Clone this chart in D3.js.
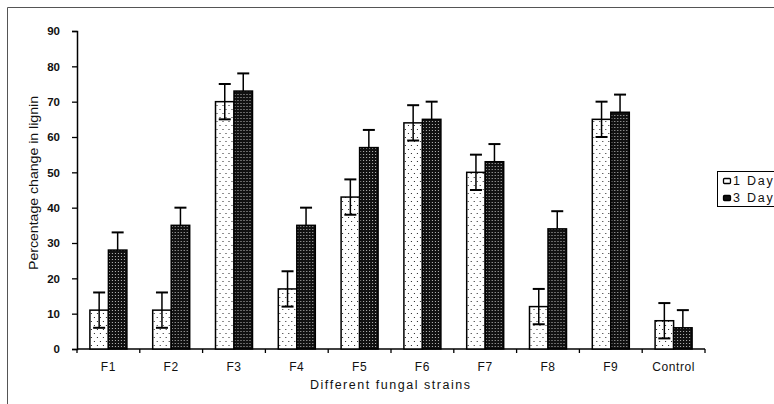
<!DOCTYPE html>
<html>
<head>
<meta charset="utf-8">
<script src="https://cdn.jsdelivr.net/npm/d3@7"></script>
<style>
body { margin: 0; background: #fff; }
svg text { font-family: Arial, "Liberation Sans", sans-serif; }
</style>
</head>
<body>
<svg id="chart" width="774" height="404"></svg>
<script>
// data
var strains = ["F1", "F2", "F3", "F4", "F5", "F6", "F7", "F8", "F9", "Control"];
var day1 = [11, 11, 70, 17, 43, 64, 50, 12, 65, 8];
var day3 = [28, 35, 73, 35, 57, 65, 53, 34, 67, 6];
var err1 = [5, 5, 5, 5, 5, 5, 5, 5, 5, 5];
var err3 = [5, 5, 5, 5, 5, 5, 5, 5, 5, 5];
var seriesNames = ["1 Day", "3 Day"];
var yTicks = [0, 10, 20, 30, 40, 50, 60, 70, 80, 90];

var svg = d3.select("#chart");

// patterns
var defs = svg.append("defs");
var p1 = defs.append("pattern").attr("id", "dots1").attr("patternUnits", "userSpaceOnUse")
	.attr("width", 6).attr("height", 8);
p1.append("rect").attr("width", 6).attr("height", 8).attr("fill", "#fff");
p1.append("rect").attr("x", 1).attr("y", 1).attr("width", 1).attr("height", 1).attr("fill", "#222");
p1.append("rect").attr("x", 4).attr("y", 5).attr("width", 1).attr("height", 1).attr("fill", "#222");

var p2 = defs.append("pattern").attr("id", "dots2").attr("patternUnits", "userSpaceOnUse")
	.attr("width", 3).attr("height", 3);
p2.append("rect").attr("width", 3).attr("height", 3).attr("fill", "#111");
p2.append("rect").attr("x", 1).attr("y", 1).attr("width", 1).attr("height", 1).attr("fill", "#bbb");

// outer frame
svg.append("line").attr("x1", 7.5).attr("y1", 7.5).attr("x2", 774).attr("y2", 7.5)
	.attr("stroke", "#555").attr("stroke-width", 1);
svg.append("line").attr("x1", 7.5).attr("y1", 7.5).attr("x2", 7.5).attr("y2", 404)
	.attr("stroke", "#555").attr("stroke-width", 1);

var plotLeft = 77, plotRight = 705, plotTop = 31, plotBottom = 349;

var x = d3.scaleBand().domain(strains).range([plotLeft, plotRight]).paddingInner(0).paddingOuter(0);
var y = d3.scaleLinear().domain([0, 90]).range([plotBottom, plotTop]);
var inner = d3.scaleBand().domain([0, 1]).range([0, 37]);
var pairOffset = (x.bandwidth() - 37) / 2;

// axes
var yAxis = svg.append("g").attr("transform", "translate(" + plotLeft + ",0)")
	.call(d3.axisLeft(y).tickValues(yTicks).tickSize(5).tickPadding(12).tickFormat(d3.format("d")));
yAxis.select(".domain").attr("stroke", "#000").attr("stroke-width", 1.5);
yAxis.selectAll(".tick line").attr("stroke-width", 1.3);
yAxis.selectAll("text").attr("font-size", 11.5).attr("font-weight", "bold").attr("fill", "#111");

var xTickScale = d3.scaleLinear().domain([0, strains.length]).range([plotLeft, plotRight]);
var xAxis = svg.append("g").attr("transform", "translate(0," + plotBottom + ")");
xAxis.append("line").attr("x1", plotLeft).attr("x2", plotRight).attr("stroke", "#000").attr("stroke-width", 1.5);
xAxis.selectAll(".xt").data(d3.range(strains.length + 1)).enter().append("line")
	.attr("x1", function(d) { return xTickScale(d); })
	.attr("x2", function(d) { return xTickScale(d); })
	.attr("y1", 0).attr("y2", 4).attr("stroke", "#000").attr("stroke-width", 1.3);
xAxis.selectAll(".xl").data(strains).enter().append("text")
	.attr("x", function(d) { return x(d) + x.bandwidth() / 2; })
	.attr("y", 22).attr("text-anchor", "middle")
	.attr("font-size", 12).attr("letter-spacing", 0.6)
	.attr("fill", "#111").text(function(d) { return d; });

// bars
var groups = svg.selectAll(".grp").data(strains).enter().append("g")
	.attr("transform", function(d) { return "translate(" + (x(d) + pairOffset) + ",0)"; });

groups.append("rect")
	.attr("x", inner(0)).attr("width", inner.bandwidth())
	.attr("y", function(d, i) { return y(day1[i]); })
	.attr("height", function(d, i) { return plotBottom - y(day1[i]); })
	.attr("fill", "url(#dots1)").attr("stroke", "#000").attr("stroke-width", 1.5);

groups.append("rect")
	.attr("x", inner(1)).attr("width", inner.bandwidth())
	.attr("y", function(d, i) { return y(day3[i]); })
	.attr("height", function(d, i) { return plotBottom - y(day3[i]); })
	.attr("fill", "url(#dots2)").attr("stroke", "#000").attr("stroke-width", 1.5);

// error bars
var cap = 6;
groups.each(function(d, i) {
	var g = d3.select(this);
	var c1 = inner(0) + inner.bandwidth() / 2;
	g.append("line").attr("x1", c1).attr("x2", c1)
		.attr("y1", y(day1[i] - err1[i])).attr("y2", y(day1[i] + err1[i]))
		.attr("stroke", "#000").attr("stroke-width", 1.5);
	g.append("line").attr("x1", c1 - cap).attr("x2", c1 + cap)
		.attr("y1", y(day1[i] + err1[i])).attr("y2", y(day1[i] + err1[i]))
		.attr("stroke", "#000").attr("stroke-width", 2);
	g.append("line").attr("x1", c1 - cap).attr("x2", c1 + cap)
		.attr("y1", y(day1[i] - err1[i])).attr("y2", y(day1[i] - err1[i]))
		.attr("stroke", "#000").attr("stroke-width", 2);

	var c3 = inner(1) + inner.bandwidth() / 2;
	g.append("line").attr("x1", c3).attr("x2", c3)
		.attr("y1", y(day3[i])).attr("y2", y(day3[i] + err3[i]))
		.attr("stroke", "#000").attr("stroke-width", 1.5);
	g.append("line").attr("x1", c3 - cap).attr("x2", c3 + cap)
		.attr("y1", y(day3[i] + err3[i])).attr("y2", y(day3[i] + err3[i]))
		.attr("stroke", "#000").attr("stroke-width", 2);
});

// axis titles
svg.append("text")
	.attr("transform", "translate(38,183) rotate(-90)")
	.attr("text-anchor", "middle").attr("font-size", 12.5)
	.attr("textLength", 174).attr("lengthAdjust", "spacingAndGlyphs")
	.style("font-family", "'Liberation Sans Narrow', 'Arial Narrow', sans-serif")
	.attr("fill", "#111").text("Percentage change in lignin");

svg.append("text")
	.attr("x", 390).attr("y", 389)
	.attr("text-anchor", "middle").attr("font-size", 12.5)
	.attr("textLength", 160).attr("lengthAdjust", "spacing")
	.attr("fill", "#111").text("Different fungal strains");

// legend (cut off by the right edge, as in the original)
var legend = svg.append("g").attr("transform", "translate(717,171)");
legend.append("rect").attr("x", 0.5).attr("y", 0.5).attr("width", 80).attr("height", 35)
	.attr("fill", "#fff").attr("stroke", "#000").attr("stroke-width", 1);
legend.selectAll(".li").data(seriesNames).enter().append("rect")
	.attr("x", 6.5).attr("y", function(d, i) { return 7.5 + i * 17; })
	.attr("width", 7).attr("height", 5).attr("rx", 1)
	.attr("fill", function(d, i) { return i ? "#111" : "#fff"; })
	.attr("stroke", "#000").attr("stroke-width", 1.3);
legend.selectAll(".lt").data(seriesNames).enter().append("text")
	.attr("x", 16).attr("y", function(d, i) { return 14 + i * 17; })
	.attr("font-size", 12.5).attr("letter-spacing", 1.8)
	.attr("fill", "#111").text(function(d) { return d; });
</script>
</body>
</html>
